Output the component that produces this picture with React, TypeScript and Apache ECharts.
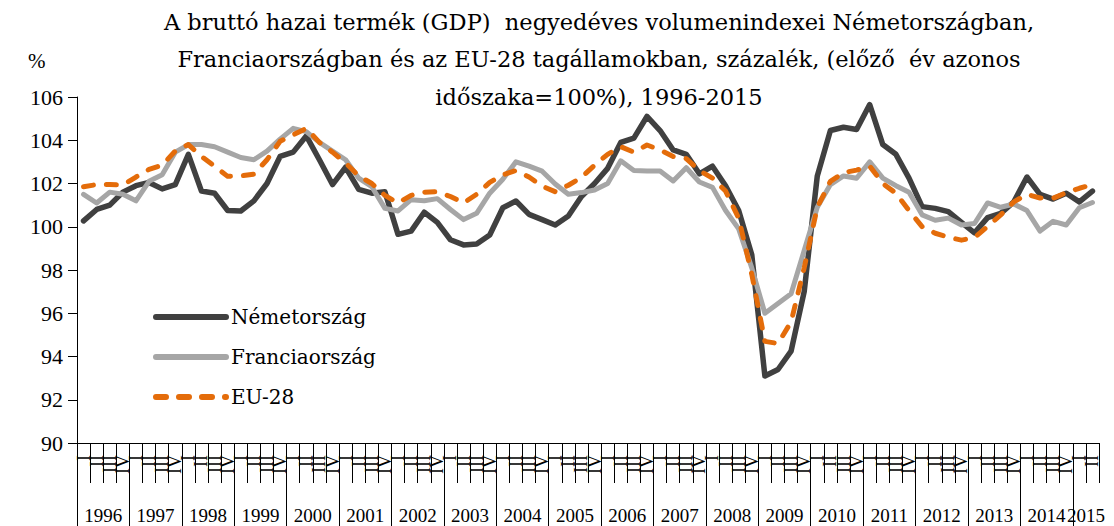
import React, { useEffect, useRef } from "react";
import * as echarts from "echarts";

const years = [1996, 1997, 1998, 1999, 2000, 2001, 2002, 2003, 2004, 2005, 2006, 2007, 2008, 2009, 2010, 2011, 2012, 2013, 2014, 2015];
const quarterLabels = ["I", "II", "III", "IV"];
const seriesNames = ["Németország", "Franciaország", "EU-28"];

const germany = [
  100.27, 100.8, 101.0, 101.6,
  101.9, 102.05, 101.75, 101.95,
  103.35, 101.65, 101.55, 100.75,
  100.73, 101.2, 102.0, 103.25,
  103.45, 104.2, 103.1, 101.95,
  102.75, 101.73, 101.55, 101.62,
  99.65, 99.8, 100.67, 100.2,
  99.4, 99.16, 99.2, 99.62,
  100.88, 101.19, 100.57, 100.33,
  100.08, 100.5, 101.4, 102.0,
  102.7, 103.9, 104.1, 105.1,
  104.45, 103.55, 103.35, 102.45,
  102.8, 101.9, 100.75, 98.7,
  93.1, 93.4, 94.25, 97.0,
  102.35, 104.45, 104.6, 104.5,
  105.65, 103.8, 103.35, 102.25,
  100.93, 100.85, 100.7, 100.2,
  99.72, 100.42, 100.62, 101.15,
  102.3, 101.5, 101.28, 101.55,
  101.15, 101.65,
];

const france = [
  101.5, 101.1, 101.6, 101.5,
  101.2, 102.1, 102.4, 103.45,
  103.8, 103.8, 103.7, 103.45,
  103.2, 103.1, 103.5, 104.05,
  104.55, 104.4, 103.9, 103.5,
  103.1, 102.25, 101.85, 100.85,
  100.73, 101.25, 101.2, 101.3,
  100.8, 100.33, 100.62, 101.55,
  102.2, 103.0, 102.8, 102.57,
  101.98, 101.5, 101.58, 101.7,
  102.0, 103.05, 102.6, 102.58,
  102.58, 102.12, 102.73, 102.07,
  101.82, 100.75, 99.9, 98.1,
  96.0, 96.45, 96.9, 98.9,
  100.9, 101.95, 102.35, 102.24,
  103.0, 102.25, 101.9, 101.6,
  100.55, 100.3, 100.4, 100.08,
  100.15, 101.1, 100.9, 101.05,
  100.75, 99.8, 100.25, 100.08,
  100.88, 101.12,
];

const eu28 = [
  101.85, 101.95, 101.95, 101.93,
  102.3, 102.65, 102.85, 103.5,
  103.8, 103.25, 102.8, 102.33,
  102.35, 102.43, 103.1, 103.95,
  104.25, 104.55, 103.9, 103.45,
  102.95, 102.35, 102.0, 101.45,
  101.1, 101.45, 101.6, 101.62,
  101.4, 101.1, 101.5, 102.05,
  102.4, 102.6, 102.3, 101.88,
  101.62, 101.92, 102.28, 102.85,
  103.35, 103.7, 103.45, 103.78,
  103.55, 103.25, 103.15, 102.6,
  102.25, 101.65, 100.4, 97.8,
  94.7, 94.6, 95.6, 98.1,
  100.9, 102.1, 102.5, 102.62,
  102.8, 102.0, 101.55, 100.75,
  100.0, 99.7, 99.52, 99.38,
  99.5, 100.02, 100.55, 101.15,
  101.5, 101.33, 101.32, 101.58,
  101.78, 101.95,
];

const titleText =
  "A bruttó hazai termék (GDP)  negyedéves volumenindexei Németországban,\nFranciaországban és az EU-28 tagállamokban, százalék, (előző  év azonos\nidőszaka=100%), 1996-2015";

const WIDE = '"DejaVu Serif", serif';
const NARROW = '"Liberation Serif", serif';

export default function App() {
  const ref = useRef<HTMLDivElement>(null);

  useEffect(() => {
    document.body.style.margin = "0";
    if (!ref.current) return;
    const chart = echarts.init(ref.current, undefined, { renderer: "svg" });

    const nQ = germany.length;
    const periods: string[] = [];
    for (let i = 0; i < nQ; i++) {
      periods.push(years[Math.floor(i / 4)] + " " + quarterLabels[i % 4]);
    }
    // half-quarter steps for the year axis (boundaryGap false)
    const halfSteps: string[] = [];
    for (let i = 0; i <= nQ * 2; i++) {
      const k = Math.floor(i / 8);
      const isLastPartial = k === years.length - 1;
      const labelIdx = isLastPartial ? 8 * k + (nQ * 2 - 8 * k) / 2 : 8 * k + 4;
      if (i === labelIdx && k < years.length) halfSteps.push(String(years[k]));
      else halfSteps.push("_" + i);
    }

    chart.setOption({
      animation: false,
      grid: { left: 77, right: 15, top: 97, bottom: 83, containLabel: false },
      graphic: [
        {
          type: "text",
          x: 599,
          y: 3,
          style: {
            text: titleText,
            font: `22.5px ${WIDE}`,
            fill: "#000",
            textAlign: "center",
            lineHeight: 37.5,
          },
        },
        {
          type: "text",
          x: 28,
          y: 50,
          style: { text: "%", font: `21px ${NARROW}`, fill: "#000" },
        },
      ],
      legend: {
        orient: "vertical",
        left: 148,
        top: 302,
        itemWidth: 70,
        itemHeight: 14,
        itemGap: 20,
        data: seriesNames,
        itemStyle: { opacity: 0 },
        lineStyle: { width: 6 },
        textStyle: { fontFamily: WIDE, fontSize: 20, color: "#000" },
      },
      xAxis: [
        {
          type: "category",
          data: periods,
          boundaryGap: true,
          axisLine: { show: true, lineStyle: { color: "#000", width: 1 } },
          axisTick: { show: true, interval: 0, length: 40, lineStyle: { color: "#000" } },
          axisLabel: {
            interval: 0,
            rotate: 90,
            margin: 12,
            fontFamily: NARROW,
            fontSize: 18,
            color: "#000",
            formatter: (v: string) => v.split(" ")[1],
          },
          splitLine: { show: false },
        },
        {
          type: "category",
          data: halfSteps,
          boundaryGap: false,
          position: "bottom",
          axisLine: { show: false },
          axisTick: {
            show: true,
            length: 83,
            interval: (i: number) => i % 8 === 0 && i < nQ * 2,
            lineStyle: { color: "#000" },
          },
          axisLabel: {
            interval: (_i: number, v: string) => !String(v).startsWith("_"),
            margin: 63,
            fontFamily: NARROW,
            fontSize: 19,
            color: "#000",
            formatter: (v: string) => (String(v).startsWith("_") ? "" : v),
          },
          splitLine: { show: false },
        },
      ],
      yAxis: {
        type: "value",
        min: 90,
        max: 106,
        interval: 2,
        axisLine: { show: true, lineStyle: { color: "#000", width: 1 } },
        axisTick: { show: true, length: 9, lineStyle: { color: "#000" } },
        axisLabel: { margin: 14, fontFamily: NARROW, fontSize: 22, color: "#000" },
        splitLine: { show: false },
      },
      series: [
        {
          name: seriesNames[0],
          type: "line",
          data: germany,
          symbol: "none",
          lineStyle: { color: "#404040", width: 5.5, cap: "round", join: "round" },
          itemStyle: { color: "#404040" },
        },
        {
          name: seriesNames[1],
          type: "line",
          data: france,
          symbol: "none",
          lineStyle: { color: "#A6A6A6", width: 5, cap: "round", join: "round" },
          itemStyle: { color: "#A6A6A6" },
        },
        {
          name: seriesNames[2],
          type: "line",
          data: eu28,
          symbol: "none",
          lineStyle: { color: "#E46C0A", width: 5, type: [10, 13], cap: "round", join: "round" },
          itemStyle: { color: "#E46C0A" },
        },
      ],
    });

    return () => chart.dispose();
  }, []);

  return <div ref={ref} style={{ width: 1114, height: 526 }} />;
}
